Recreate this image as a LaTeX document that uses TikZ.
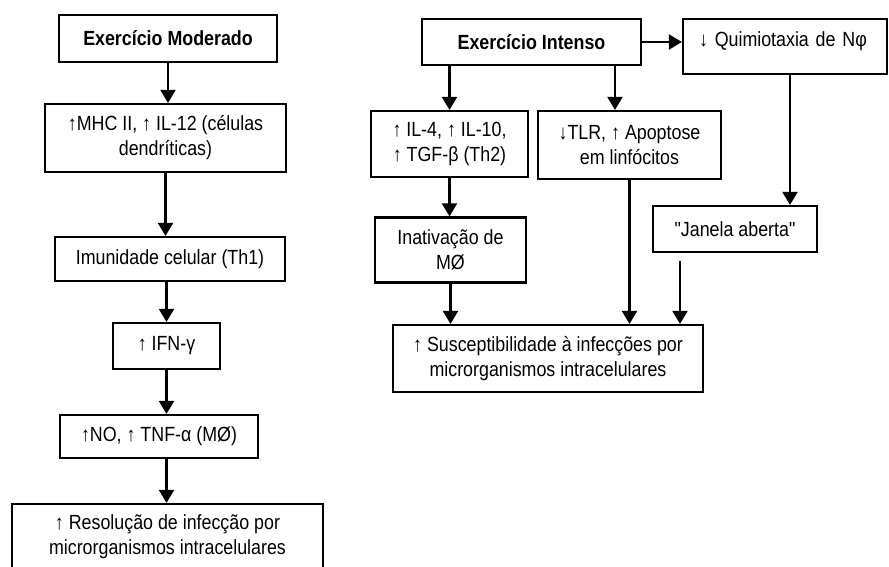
\documentclass[tikz,border=0pt]{standalone}
\usepackage{fontspec}
\setmainfont{Liberation Sans}[FakeStretch=0.87,Ligatures=TeXOff]
\usetikzlibrary{arrows.meta}

\begin{document}
\begin{tikzpicture}[x=1pt,y=-1pt,
    box/.style={draw,line width=2.2pt,align=center,inner sep=0pt,font=\fontsize{20.5}{25}\selectfont},
    arr/.style={line width=2.2pt,-{Triangle[length=13pt,width=15pt]}}]
            \useasboundingbox (0,0) rectangle (889,567);
            \node[box,minimum width=218pt,minimum height=47pt] (mod) at (168,38.5) {\textbf{Exercício Moderado}};
            \node[box,minimum width=241pt,minimum height=68pt] (mhc) at (165.5,138) {↑MHC II, ↑ IL-12 (células\\dendríticas)};
            \node[box,minimum width=230pt,minimum height=44pt] (imun) at (170,259) {Imunidade celular (Th1)};
            \node[box,minimum width=107pt,minimum height=46pt] (ifn) at (166.5,346) {↑ IFN-γ};
            \node[box,minimum width=198pt,minimum height=43pt] (no) at (159,436.5) {↑NO, ↑ TNF-α (MØ)};
            \node[box,minimum width=311pt,minimum height=66pt] (resol) at (167.5,537) {↑ Resolução de infecção por\\microrganismos intracelulares};
            \draw[arr] (mod.south) -- (mod.south |- mhc.north);
            \draw[arr] (mhc.south) -- (mhc.south |- imun.north);
            \draw[arr] (ifn.north |- imun.south) -- (ifn.north);
            \draw[arr] (ifn.south) -- (ifn.south |- no.north);
            \draw[arr] (ifn.south |- no.south) -- (ifn.south |- resol.north);
            \node[box,minimum width=219pt,minimum height=46pt] (int) at (531.5,42) {\textbf{Exercício Intenso}};
            \node[box,minimum width=204pt,minimum height=55pt,text width=172pt,align=left,text height=15pt,text depth=14pt] (quim) at (785,46.5) {↓ Quimiotaxia de Nφ};
            \node[box,minimum width=157pt,minimum height=66pt] (il4) at (449.5,144) {↑ IL-4, ↑ IL-10,\\↑ TGF-β (Th2)};
            \node[box,minimum width=183pt,minimum height=68pt] (tlr) at (629.5,145) {↓TLR, ↑ Apoptose\\em linfócitos};
            \node[box,minimum width=151pt,minimum height=65pt] (inat) at (450.5,250) {Inativação de\\MØ};
            \node[box,minimum width=163.5pt,minimum height=46pt] (jan) at (735,229) {"Janela aberta"};
            \node[box,minimum width=310pt,minimum height=67pt] (sus) at (548,358.5) {↑ Susceptibilidade à infecções por\\microrganismos intracelulares};
            \coordinate (jtail) at ([xshift=-55pt,yshift=-8pt]jan.south);
            \draw[arr] (int.east) -- (quim.west |- int.east);
            \draw[arr] (il4.north |- int.south) -- (il4.north);
            \draw[arr] ([xshift=83.5pt]int.south) -- ([xshift=83.5pt]int.south |- tlr.north);
            \draw[arr] ([xshift=5pt]quim.south) -- ([xshift=5pt]quim.south |- jan.north);
            \draw[arr] (il4.south) -- (il4.south |- inat.north);
            \draw[arr] (inat.south) -- (inat.south |- sus.north);
            \draw[arr] (tlr.south) -- (tlr.south |- sus.north);
            \draw[arr] (jtail) -- (jtail |- sus.north);
\end{tikzpicture}
\end{document}
